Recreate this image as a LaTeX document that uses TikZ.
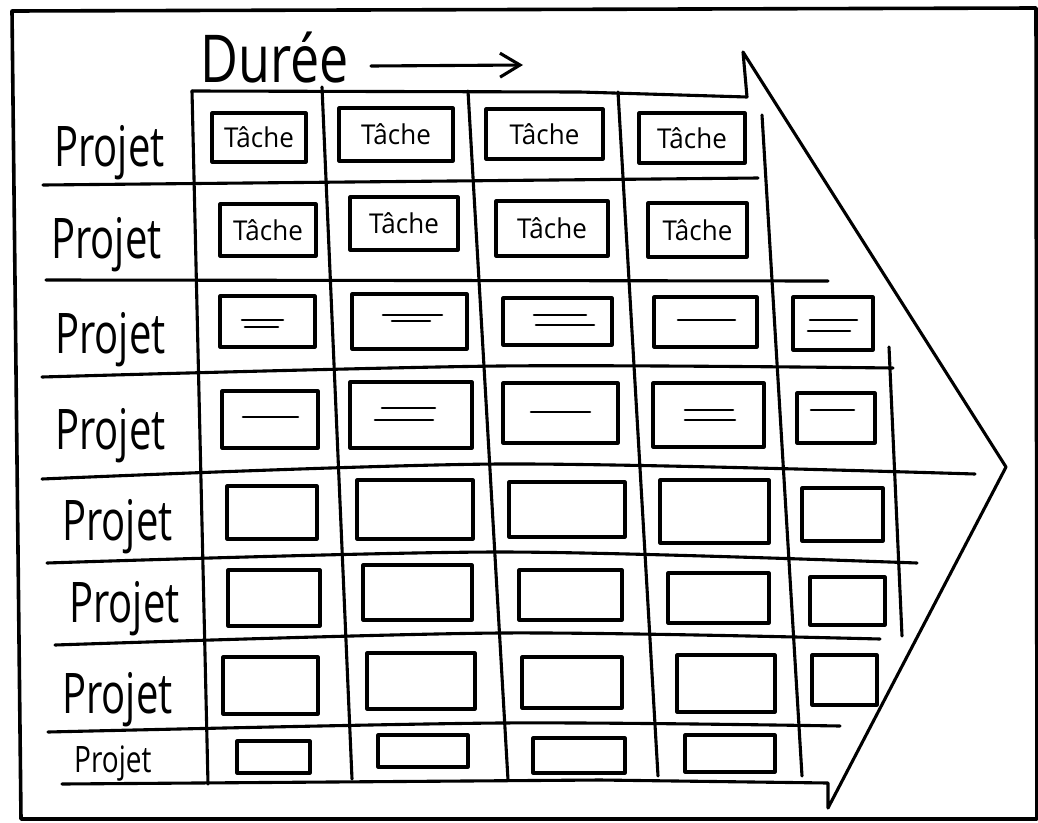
\documentclass[tikz,border=0pt]{standalone}
\usepackage{fontspec}
\setmainfont{Open Sans}
\usepackage{graphicx}
\usetikzlibrary{arrows.meta}
\newcommand\cellbox[6]{\node[cell, minimum width={(#4-#2)*1pt}, minimum height={(#5-#3)*1pt}] (#1) at ({(#2+#4)/2},{(#3+#5)/2}) {#6};}
\newcommand\mkline[3]{\draw[stroke] (#1,#2) -- (#3,#2);}
\newcommand\tache{\scalebox{1}[1.05]{\fontsize{26}{26}\selectfont Tâche}}
\newcommand\projet{\scalebox{1}[1.4]{Projet}}
\begin{document}
\begin{tikzpicture}[x=1pt,y=-1pt,
  ink/.style={line width=3.1pt, line cap=round, line join=round},
  cell/.style={draw, ink, rectangle, inner sep=0pt, outer sep=0pt},
  stroke/.style={line width=2.6pt, line cap=round},
  proj/.style={anchor=base west, inner sep=0pt, font=\fontsize{40}{40}\selectfont}]
\useasboundingbox (0,0) rectangle (1038,822);
% frame
\draw[line width=3.6pt, line join=round] (12,11) -- (1036,8) -- (1037,819) -- (21,819) -- cycle;
% title
\node[anchor=base west, inner sep=0pt, font=\fontsize{52}{52}\selectfont] (duree) at (200,82) {\scalebox{1}[1.27]{Durée}};
\coordinate (a0) at (371,66);
\coordinate (a1) at (523,65);
\draw[ink, -{Straight Barb[length=20pt,width=24pt]}] (a0) -- (a1);
% big arrow outline
\draw[ink] (192,91) -- (580,92) -- (747,97) -- (743,52) -- (1006,467) -- (828,808) -- (828,783) -- (600,780) -- (62,784);
% column lines
\draw[ink] (192,91) -- (208,784);
\draw[ink] (322,87) -- (352,779);
\draw[ink] (468,91) -- (508,780);
\draw[ink] (618,92) -- (658,776);
\draw[ink] (762,115) -- (802,776);
\draw[ink] (889,347) -- (902,636);
% row lines
\draw[ink] (43,185) -- (758,178);
\draw[ink] (46,280) -- (828,281);
\draw[ink] plot[smooth] coordinates {(42,377) (500,366) (893,368)};
\draw[ink] plot[smooth] coordinates {(42,479) (500,464) (975,474)};
\draw[ink] plot[smooth] coordinates {(47,563) (500,552) (917,563)};
\draw[ink] plot[smooth] coordinates {(55,645) (500,633) (880,639)};
\draw[ink] plot[smooth] coordinates {(48,732) (500,723) (840,726)};
% project labels
\node[proj] (p1) at (54,166) {\projet};
\node[proj] (p2) at (51,258) {\projet};
\node[proj] (p3) at (55,353) {\projet};
\node[proj] (p4) at (55,449) {\projet};
\node[proj] (p5) at (62,540) {\projet};
\node[proj] (p6) at (69,622) {\projet};
\node[proj] (p7) at (62,713) {\projet};
\node[anchor=base west, inner sep=0pt, font=\fontsize{28}{28}\selectfont] (p8) at (74,772) {\scalebox{1}[1.3]{Projet}};
% row 1
\cellbox{b11}{212}{113}{306}{162}{\tache}
\cellbox{b12}{339}{108}{453}{161}{\tache}
\cellbox{b13}{486}{109}{603}{159}{\tache}
\cellbox{b14}{639}{113}{745}{163}{\tache}
% row 2
\cellbox{b21}{220}{204}{316}{256}{\tache}
\cellbox{b22}{350}{197}{458}{250}{\tache}
\cellbox{b23}{496}{201}{608}{256}{\tache}
\cellbox{b24}{648}{203}{747}{257}{\tache}
% row 3
\cellbox{b31}{220}{296}{315}{347}{}
\cellbox{b32}{352}{294}{467}{349}{}
\cellbox{b33}{503}{298}{612}{345}{}
\cellbox{b34}{654}{297}{757}{347}{}
\cellbox{b35}{793}{297}{873}{350}{}
\mkline{242}{320}{283}\mkline{245}{327}{278}
\mkline{383}{315}{442}\mkline{392}{321}{430}
\mkline{534}{315}{586}\mkline{536}{325}{594}
\mkline{678}{320}{735}
\mkline{810}{320}{857}\mkline{808}{331}{850}
% row 4
\cellbox{b41}{222}{391}{318}{448}{}
\cellbox{b42}{350}{382}{472}{448}{}
\cellbox{b43}{503}{383}{618}{443}{}
\cellbox{b44}{653}{383}{764}{447}{}
\cellbox{b45}{797}{393}{875}{443}{}
\mkline{243}{417}{298}
\mkline{382}{408}{435}\mkline{375}{420}{433}
\mkline{531}{412}{590}
\mkline{685}{410}{733}\mkline{685}{420}{735}
\mkline{811}{410}{854}
% row 5
\cellbox{b51}{227}{486}{317}{539}{}
\cellbox{b52}{357}{480}{473}{539}{}
\cellbox{b53}{509}{482}{625}{537}{}
\cellbox{b54}{660}{480}{769}{543}{}
\cellbox{b55}{802}{488}{883}{541}{}
% row 6
\cellbox{b61}{228}{570}{320}{626}{}
\cellbox{b62}{363}{565}{472}{620}{}
\cellbox{b63}{519}{570}{622}{620}{}
\cellbox{b64}{668}{573}{769}{623}{}
\cellbox{b65}{810}{577}{885}{625}{}
% row 7
\cellbox{b71}{223}{657}{318}{714}{}
\cellbox{b72}{367}{653}{475}{709}{}
\cellbox{b73}{522}{657}{622}{708}{}
\cellbox{b74}{677}{655}{775}{712}{}
\cellbox{b75}{812}{655}{877}{705}{}
% row 8
\cellbox{b81}{237}{741}{310}{773}{}
\cellbox{b82}{378}{735}{468}{767}{}
\cellbox{b83}{533}{738}{625}{773}{}
\cellbox{b84}{685}{735}{775}{772}{}
\end{tikzpicture}
\end{document}
